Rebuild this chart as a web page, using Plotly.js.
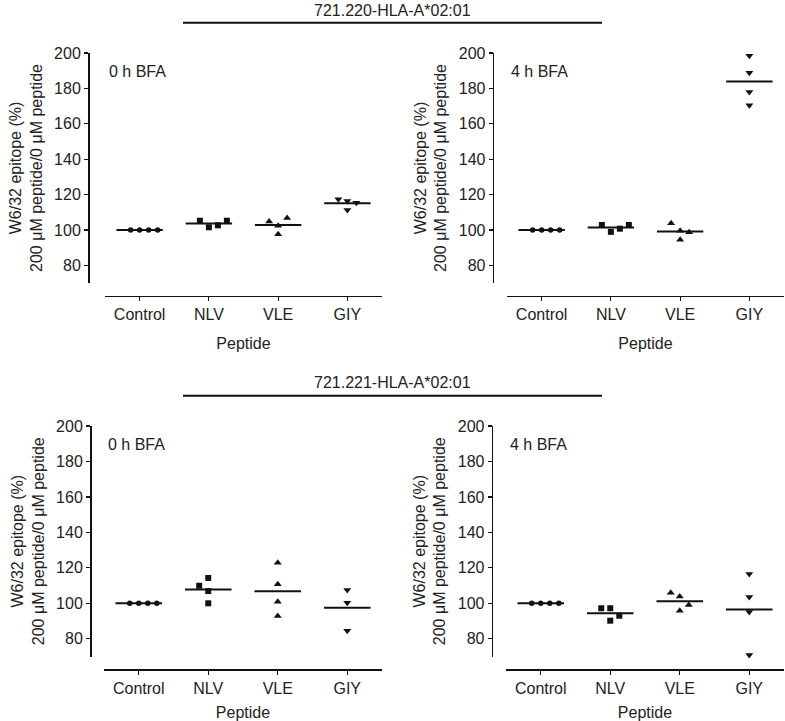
<!DOCTYPE html>
<html>
<head>
<meta charset="utf-8">
<script src="https://cdn.plot.ly/plotly-3.0.1.min.js"></script>
<style>html,body{margin:0;padding:0;background:#fff;}#chart{width:785px;height:721px;}</style>
</head>
<body>
<div id="chart"></div>
<script>
// ---- Data ----
const categories = ['Control', 'NLV', 'VLE', 'GIY'];
const yTicks = [80, 100, 120, 140, 160, 180, 200];
const panelLabels = ['0 h BFA', '4 h BFA', '0 h BFA', '4 h BFA'];
const groupTitles = ['721.220-HLA-A*02:01', '721.221-HLA-A*02:01'];

// 721.220, 0 h BFA
const tl_control = [100, 100, 100, 100];
const tl_nlv = [105.2, 101.5, 102.6, 105.2];
const tl_vle = [104.8, 102.3, 106.7, 97.5];
const tl_giy = [117.3, 116.3, 115.4, 111.3];
// 721.220, 4 h BFA
const tr_control = [100, 100, 100, 100];
const tr_nlv = [102.8, 98.9, 100.7, 102.8];
const tr_vle = [103.8, 99.6, 98.7, 94.4];
const tr_giy = [198.5, 188.8, 178.0, 170.5];
// 721.221, 0 h BFA
const bl_control = [100, 100, 100, 100];
const bl_nlv = [109.9, 114.3, 106.9, 100.0];
const bl_vle = [122.9, 110.7, 100.9, 92.8];
const bl_giy = [107.5, 100.3, 84.5];
// 721.221, 4 h BFA
const br_control = [100, 100, 100, 100];
const br_nlv = [97.2, 97.2, 93.0, 90.2];
const br_vle = [106.0, 103.9, 99.0, 95.8];
const br_giy = [116.5, 103.6, 95.1, 70.8];

// ---- Horizontal spread of the dots (category units) ----
const J4 = [-0.13, 0, 0.13, 0.26];
const J3 = [-0.13, 0, 0.13, 0];
const J0 = [0, 0, 0, 0];
const J1 = [-0.13, 0, 0, 0];

const panels = [
  {series: [tl_control, tl_nlv, tl_vle, tl_giy], jit: [J4, J4, J3, J3]},
  {series: [tr_control, tr_nlv, tr_vle, tr_giy], jit: [J4, J4, J3, J0]},
  {series: [bl_control, bl_nlv, bl_vle, bl_giy], jit: [J4, J1, J0, J0]},
  {series: [br_control, br_nlv, br_vle, br_giy], jit: [J4, J3, J3, J0]}
];

// ---- Styles / layout ----
const W = 785, H = 721;
const symbols = ['circle', 'square', 'triangle-up', 'triangle-down'];
const sizes = [5.5, 6, 7, 7];
const FONT = 'Liberation Sans, Arial, Helvetica, sans-serif';
const TXT = '#222';
const px = v => v / W;
const py = v => 1 - v / H;

const geom = [
  {x: [105, 382], y: [53, 283], yPos: 88, xPos: 295.5, stand: 15},
  {x: [507, 784], y: [53, 283], yPos: 492.7, xPos: 295.5, stand: 15},
  {x: [104, 382], y: [426, 656.5], yPos: 90, xPos: 669.3, stand: 12},
  {x: [506, 784], y: [426, 656.5], yPos: 491.7, xPos: 669.3, stand: 12}
];

const traces = [];
const layout = {
  width: W, height: H,
  margin: {l: 0, r: 0, t: 0, b: 0},
  paper_bgcolor: '#fff', plot_bgcolor: 'rgba(0,0,0,0)',
  showlegend: false,
  font: {family: FONT, size: 16, color: TXT},
  annotations: [], shapes: []
};

panels.forEach((p, pi) => {
  const xa = pi === 0 ? 'x' : 'x' + (pi + 1);
  const ya = pi === 0 ? 'y' : 'y' + (pi + 1);
  p.series.forEach((vals, ci) => {
    const mean = vals.reduce((a, b) => a + b, 0) / vals.length;
    traces.push({
      type: 'scatter', mode: 'lines', xaxis: xa, yaxis: ya,
      x: [ci - 0.335, ci + 0.335], y: [mean, mean],
      line: {color: '#111', width: 2}, hoverinfo: 'skip', cliponaxis: false
    });
    traces.push({
      type: 'scatter', mode: 'markers', xaxis: xa, yaxis: ya,
      x: vals.map((v, k) => ci + p.jit[ci][k]), y: vals,
      marker: {symbol: symbols[ci], size: sizes[ci], color: '#111', line: {width: 0}},
      cliponaxis: false, name: categories[ci]
    });
  });
  const g = geom[pi];
  const xKey = pi === 0 ? 'xaxis' : 'xaxis' + (pi + 1);
  const yKey = pi === 0 ? 'yaxis' : 'yaxis' + (pi + 1);
  layout[xKey] = {
    domain: [px(g.x[0]), px(g.x[1])], range: [-0.5, 3.5],
    anchor: 'free', position: py(g.xPos),
    tickmode: 'array', tickvals: [0, 1, 2, 3], ticktext: categories,
    showline: true, linecolor: '#111', linewidth: 1.5,
    ticks: 'outside', ticklen: 4, tickwidth: 1.2, tickcolor: '#111',
    showgrid: false, zeroline: false, fixedrange: true,
    tickfont: {family: FONT, size: 16, color: TXT},
    title: {text: 'Peptide', font: {family: FONT, size: 16, color: TXT}, standoff: g.stand}
  };
  layout[yKey] = {
    domain: [py(g.y[1]), py(g.y[0])], range: [70, 200],
    anchor: 'free', position: px(g.yPos),
    tickmode: 'array', tickvals: yTicks,
    showline: true, linecolor: '#111', linewidth: 1.5,
    ticks: 'outside', ticklen: 4, tickwidth: 1.2, tickcolor: '#111',
    showgrid: false, zeroline: false, fixedrange: true,
    tickfont: {family: FONT, size: 16, color: TXT},
    title: {text: 'W6/32 epitope (%)<br>200 \u03bcM peptide/0 \u03bcM peptide',
            font: {family: FONT, size: 16, color: TXT}, standoff: 6}
  };
  layout.annotations.push({
    xref: 'paper', yref: 'paper', x: px(g.x[0] - 1 + 3), y: py(g.y[0] + 19),
    xanchor: 'left', yanchor: 'middle', showarrow: false,
    text: panelLabels[pi], font: {family: FONT, size: 16, color: TXT}
  });
});

// group headers with rules
[[11, 22.7], [382, 395.7]].forEach((pos, i) => {
  layout.annotations.push({
    xref: 'paper', yref: 'paper', x: px(392), y: py(pos[0]),
    xanchor: 'center', yanchor: 'middle', showarrow: false,
    text: groupTitles[i], font: {family: FONT, size: 16, color: TXT}
  });
  layout.shapes.push({
    type: 'line', xref: 'paper', yref: 'paper',
    x0: px(183), x1: px(602), y0: py(pos[1]), y1: py(pos[1]),
    line: {color: '#111', width: 2}
  });
});

Plotly.newPlot('chart', traces, layout, {displayModeBar: false, staticPlot: true});
</script>
</body>
</html>
